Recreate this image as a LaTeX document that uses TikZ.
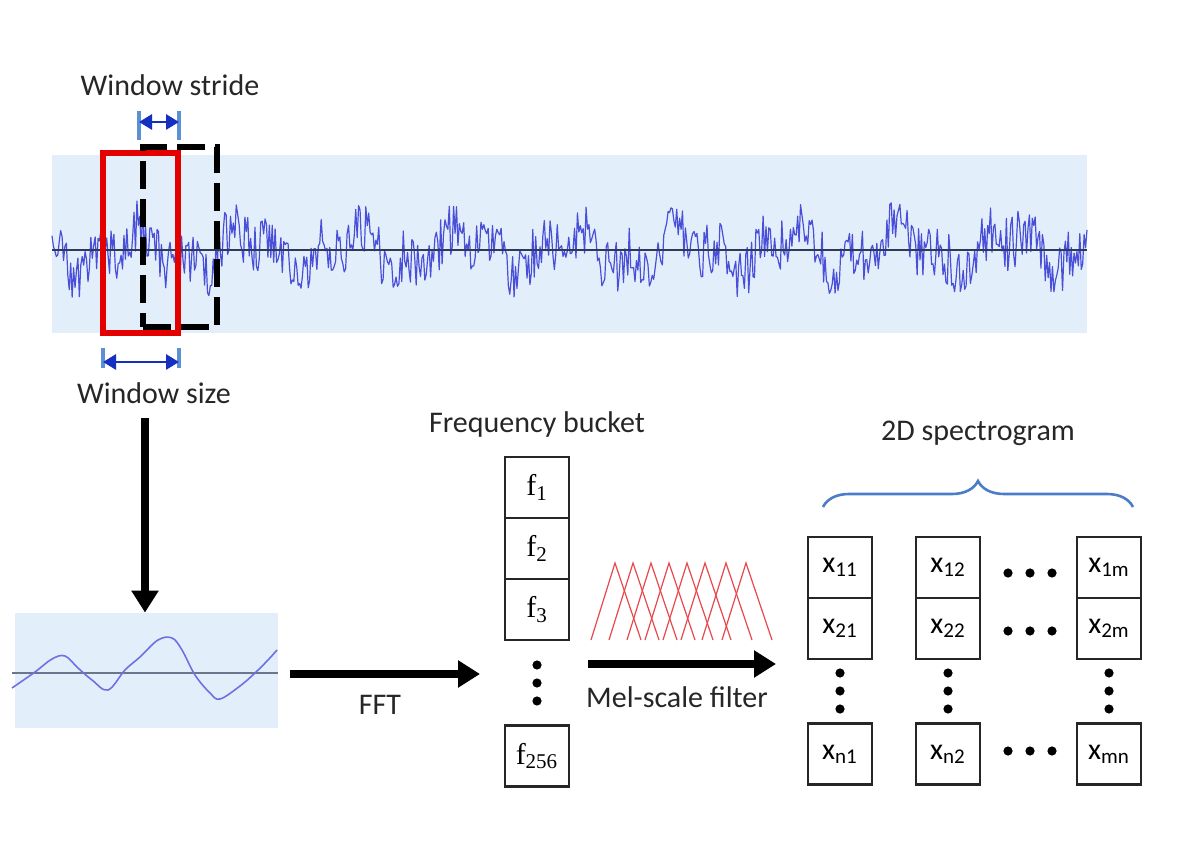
\documentclass[tikz,border=0pt]{standalone}
\usepackage{fontspec}
\setmainfont{Carlito}
\newfontfamily\serf{Liberation Serif}
\usetikzlibrary{arrows.meta,decorations.pathreplacing}
\definecolor{panel}{HTML}{E3EEFB}
\definecolor{sig}{HTML}{4A4FD8}
\definecolor{axisc}{HTML}{2F3A5A}
\definecolor{dimblue}{HTML}{1530C0}
\definecolor{tickblue}{HTML}{5B8FD6}
\definecolor{bracec}{HTML}{4A7CC8}
\definecolor{melred}{HTML}{E8484C}
\begin{document}
\begin{tikzpicture}[x=0.5pt,y=-0.5pt,
  lbl/.style={font=\fontsize{15}{18}\selectfont, text=black!85},
  cell/.style={draw=black!85, line width=1.1pt, minimum width=32pt, minimum height=30.5pt, inner sep=0pt, font=\fontsize{15}{18}\selectfont},
  bigarrow/.style={line width=3.6pt, -{Triangle[length=11pt,width=13pt]}},
  dimarrow/.style={dimblue, line width=1.4pt, {Triangle[length=6.5pt,width=7.5pt]}-{Triangle[length=6.5pt,width=7.5pt]}},
  tick/.style={tickblue, line width=1.8pt},
  dot/.style={circle, fill=black, inner sep=0pt, minimum size=4.6pt}]
\useasboundingbox (0,0) rectangle (1200,844);
% ---------- top signal panel
\fill[panel] (52,155) rectangle (1087,333);
\pgfmathsetseed{11}
\draw[sig, line width=0.6pt, line join=round] plot[domain=52:1087, samples=720] (\x, {250 - (16*sin(\x*3.3) + 11*sin(\x*8.1+30) + 27*rand)});
\draw[axisc, line width=0.7pt] (52,250) -- (1087,250);
% windows
\node[draw=red!90!black, line width=3.4pt, minimum width=37.5pt, minimum height=90pt, inner sep=0pt] (redwin) at (140.5,243) {};
\node[draw=black, dashed, dash pattern=on 14pt off 5pt, line width=2.6pt, minimum width=37pt, minimum height=90pt, inner sep=0pt] (blackwin) at (180,237) {};
% stride dimension
\coordinate (s1) at (139,122);
\coordinate (s2) at (179,122);
\draw[tick] (139,111) -- (139,140);
\draw[tick] (179,111) -- (179,140);
\draw[dimarrow] (s1) -- (s2);
\node[lbl] (stride) at (170,85) {Window stride};
% size dimension
\coordinate (z1) at (103,362);
\coordinate (z2) at (179,362);
\draw[tick] (103,348) -- (103,368);
\draw[tick] (179,348) -- (179,368);
\draw[dimarrow] (z1) -- (z2);
\node[lbl] (size) at (154,393) {Window size};
% ---------- bottom-left window panel
\fill[panel] (15,613) rectangle (278,728);
\node[inner sep=0pt, minimum width=131.5pt, minimum height=57.5pt] (winpanel) at (146.5,670.5) {};
\draw[axisc!70, line width=0.7pt] (12,673) -- (278,673);
\draw[sig!80, line width=0.8pt] plot[smooth, tension=0.6] coordinates {(12,688) (35,672) (52,659) (65,656) (78,668) (92,680) (108,690) (125,670) (140,657) (158,640) (172,638) (182,650) (195,675) (210,693) (220,699) (240,686) (255,673) (268,660) (277,650)};
\coordinate (downstart) at (145,418);
\draw[bigarrow] (downstart) -- (winpanel.north -| downstart);
% ---------- FFT arrow
\coordinate (fftstart) at (290,674);
\coordinate (fftend) at (480,674);
\draw[bigarrow] (fftstart) -- (fftend);
\node[lbl] (fft) at (380,705) {FFT};
% ---------- frequency bucket
\node[lbl] (fbtitle) at (537,425) {Frequency bucket};
\node[cell] (f1) at (537,487.5) {{\serf f}\textsubscript{\serf 1}};
\node[cell] (f2) at (537,548.5) {{\serf f}\textsubscript{\serf 2}};
\node[cell] (f3) at (537,609.5) {{\serf f}\textsubscript{\serf 3}};
\node[cell] (f256) at (537,756) {{\serf f}\textsubscript{\serf 256}};
\node[dot] (fd1) at (537,665) {};
\node[dot] (fd2) at (537,683) {};
\node[dot] (fd3) at (537,701) {};
% ---------- mel filters
\foreach \p in {615,633,651,669,687,705,726,746} {
  \draw[melred, line width=0.6pt] (\p-24,640) -- (\p,563) -- (\p+26,640);
}
\coordinate (melstart) at (588,664);
\coordinate (melend) at (776,664);
\draw[bigarrow] (melstart) -- (melend);
\node[lbl] (mel) at (677,697) {Mel-scale filter};
% ---------- spectrogram
\node[lbl] (spectitle) at (978,433) {2D spectrogram};
\coordinate (br1) at (823,507);
\coordinate (br2) at (1133,507);
\draw[bracec, line width=1.3pt, decorate, decoration={brace, amplitude=13pt}] (br1) -- (br2);
\node[cell] (x11) at (840,567.5) {x\textsubscript{11}};
\node[cell] (x21) at (840,628.5) {x\textsubscript{21}};
\node[cell] (xn1) at (840,754) {x\textsubscript{n1}};
\node[cell] (x12) at (948,567.5) {x\textsubscript{12}};
\node[cell] (x22) at (948,628.5) {x\textsubscript{22}};
\node[cell] (xn2) at (948,754) {x\textsubscript{n2}};
\node[cell] (x1m) at (1109,567.5) {x\textsubscript{1m}};
\node[cell] (x2m) at (1109,628.5) {x\textsubscript{2m}};
\node[cell] (xmn) at (1109,754) {x\textsubscript{mn}};
\foreach \c/\n in {840/a,948/b,1109/c} {
  \node[dot] (v\n1) at (\c,673) {};
  \node[dot] (v\n2) at (\c,691) {};
  \node[dot] (v\n3) at (\c,709) {};
}
\foreach \r/\n in {573/a,631/b,751/c} {
  \node[dot] (h\n1) at (1008,\r) {};
  \node[dot] (h\n2) at (1030,\r) {};
  \node[dot] (h\n3) at (1052,\r) {};
}
\end{tikzpicture}
\end{document}
